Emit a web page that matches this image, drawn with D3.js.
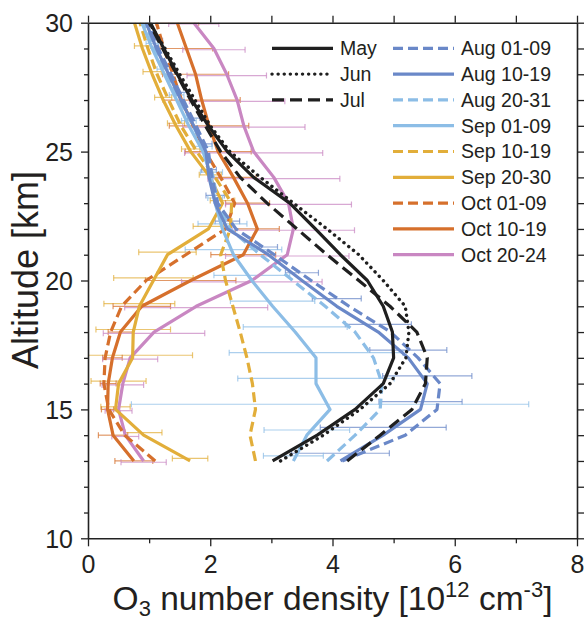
<!DOCTYPE html>
<html>
<head>
<meta charset="utf-8">
<script src="https://cdn.jsdelivr.net/npm/d3@7"></script>
<style>
  html, body { margin: 0; padding: 0; background: #fff; }
  svg { display: block; font-family: "Liberation Sans", Arial, Helvetica, sans-serif; }
</style>
</head>
<body>
<svg id="chart" width="586" height="621"></svg>
<script>
// ---------------- DATA ----------------
const altitudes = [13,14,15,16,17,18,19,20,21,22,23,24,25,26,27,28,29,30];

const seriesNames = ["May","Jun","Jul","Aug 01-09","Aug 10-19","Aug 20-31","Sep 01-09","Sep 10-19","Sep 20-30","Oct 01-09","Oct 10-19","Oct 20-24"];

const may     = [3.02,3.75,4.37,4.83,5.00,4.98,4.83,4.57,4.13,3.72,3.30,2.71,2.28,1.97,1.70,1.46,1.24,1.02];
const jun     = [3.15,3.85,4.45,4.94,5.20,5.25,5.19,4.83,4.43,3.91,3.36,2.82,2.32,2.00,1.75,1.50,1.26,1.00];
const jul     = [4.24,4.78,5.30,5.52,5.55,5.38,4.94,4.43,3.91,3.42,2.93,2.49,2.17,1.92,1.68,1.45,1.22,1.00];
const aug0109 = [4.16,5.19,5.71,5.76,5.40,4.95,4.27,3.65,3.05,2.42,2.12,2.03,1.97,1.77,1.56,1.36,1.15,0.98];
const aug1019 = [4.13,4.83,5.44,5.55,5.24,4.75,4.07,3.50,2.95,2.28,2.08,1.98,1.93,1.73,1.52,1.32,1.12,0.95];
const aug2031 = [3.91,4.37,4.78,4.81,4.67,4.37,3.88,3.35,2.82,2.32,2.12,2.05,1.93,1.72,1.50,1.30,1.10,0.93];
const sep0109 = [3.36,3.58,3.96,3.73,3.73,3.39,3.02,2.68,2.38,2.20,2.08,2.02,1.88,1.65,1.45,1.25,1.05,0.88];
const sep1019 = [2.74,2.65,2.74,2.69,2.60,2.49,2.37,2.25,2.17,2.33,2.35,2.08,1.78,1.52,1.32,1.13,0.98,0.85];
const sep2030 = [1.67,0.91,0.45,0.50,0.73,0.74,0.84,1.07,1.30,1.97,2.20,2.00,1.68,1.44,1.23,1.05,0.89,0.76];
const oct0109 = [1.10,0.60,0.34,0.26,0.28,0.37,0.55,0.95,1.60,2.25,2.40,2.17,1.92,1.72,1.53,1.39,1.24,1.12];
const oct1019 = [0.75,0.41,0.32,0.33,0.40,0.53,0.88,1.68,2.54,2.77,2.61,2.38,2.13,1.98,1.86,1.76,1.61,1.46];
const oct2024 = [0.91,0.61,0.50,0.57,0.69,1.08,1.77,2.68,3.26,3.36,3.28,3.04,2.71,2.55,2.44,2.27,2.06,1.73];

// standard deviations (error bars), only for some periods
const aug1019Std = [0.80,1.03,0.68,0.73,0.63,0.54,0.40,0.27,0.15,0.20,0.15,0.12,0.10,0.10,0.10,0.10,0.10,0.10];
const sep0109Std = [0.49,0.70,3.25,1.28,1.42,0.85,0.69,0.62,0.79,0.40,0.12,0.18,0.15,0.12,0.12,0.12,0.10,0.10];
const sep2030Std = [0.29,0.30,0.24,0.45,0.98,0.61,0.58,0.65,0.47,0.25,0.20,0.18,0.15,0.14,0.14,0.15,0.13,0.10];
const oct1019Std = [0.31,0.24,0.10,0.13,0.16,0.20,0.47,0.74,0.53,0.36,0.36,0.37,0.54,0.65,0.63,0.54,0.43,0.35];
const oct2024Std = [0.37,0.22,0.22,0.34,0.45,0.83,1.17,1.15,1.01,1.00,1.03,1.08,1.13,1.00,0.78,0.65,0.51,0.41];

const xTicks = [0,2,4,6,8];
const yTicks = [10,15,20,25,30];

// ---------------- STYLES ----------------
const BLACK = "#1f1f1f", MBLUE = "#6a88c8", LBLUE = "#8cbde6", GOLD = "#e2ae3a", ORANGE = "#d6702c", PINK = "#c987c2";

const series = [
  {name: seriesNames[0],  values: may,     color: BLACK,  dash: null,   width: 3.2},
  {name: seriesNames[1],  values: jun,     color: BLACK,  dash: "0.1,6", width: 3.4, cap: "round"},
  {name: seriesNames[2],  values: jul,     color: BLACK,  dash: "12,6", width: 3.2},
  {name: seriesNames[3],  values: aug0109, color: MBLUE,  dash: "10,5", width: 3.2},
  {name: seriesNames[4],  values: aug1019, color: MBLUE,  dash: null,   width: 3.2, std: aug1019Std},
  {name: seriesNames[5],  values: aug2031, color: LBLUE,  dash: "10,5", width: 3.2},
  {name: seriesNames[6],  values: sep0109, color: LBLUE,  dash: null,   width: 3.2, std: sep0109Std},
  {name: seriesNames[7],  values: sep1019, color: GOLD,   dash: "10,5", width: 3.2},
  {name: seriesNames[8],  values: sep2030, color: GOLD,   dash: null,   width: 3.2, std: sep2030Std},
  {name: seriesNames[9],  values: oct0109, color: ORANGE, dash: "10,5", width: 3.2},
  {name: seriesNames[10], values: oct1019, color: ORANGE, dash: null,   width: 3.2, std: oct1019Std},
  {name: seriesNames[11], values: oct2024, color: PINK,   dash: null,   width: 3.2, std: oct2024Std}
];

// ---------------- LAYOUT ----------------
const svg = d3.select("#chart");
const PL = 88, PR = 577, PT = 22.7, PB = 538.3;
const x = d3.scaleLinear().domain([0, 8]).range([PL, PR]);
const y = d3.scaleLinear().domain([10, 30]).range([PB, PT]);
const AX = "#222";

svg.append("defs").append("clipPath").attr("id", "clip")
  .append("rect").attr("x", PL).attr("y", PT).attr("width", PR - PL).attr("height", PB - PT);

// Error bars
const gBars = svg.append("g").attr("clip-path", "url(#clip)");
series.forEach((s, i) => {
  if (!s.std) return;
  const off = (10 - i) * 0.05; // small vertical offset per period (km)
  altitudes.forEach((a, j) => {
    const yy = y(a + off), x0 = x(s.values[j] - s.std[j]), x1 = x(s.values[j] + s.std[j]);
    const g = gBars.append("g").attr("stroke", s.color).attr("stroke-opacity", 0.72).attr("stroke-width", 1.2);
    g.append("line").attr("x1", x0).attr("x2", x1).attr("y1", yy).attr("y2", yy);
    g.append("line").attr("x1", x0).attr("x2", x0).attr("y1", yy - 3).attr("y2", yy + 3);
    g.append("line").attr("x1", x1).attr("x2", x1).attr("y1", yy - 3).attr("y2", yy + 3);
  });
});

// Profile lines
const line = d3.line().x(d => x(d.v)).y(d => y(d.a));
const gLines = svg.append("g").attr("clip-path", "url(#clip)");
const drawOrder = [11,10,9,8,7,6,5,4,3,2,1,0];
drawOrder.forEach(i => {
  const s = series[i];
  gLines.append("path")
    .datum(altitudes.map((a, j) => ({a, v: s.values[j]})))
    .attr("d", line)
    .attr("fill", "none")
    .attr("stroke", s.color)
    .attr("stroke-width", s.width)
    .attr("stroke-dasharray", s.dash)
    .attr("stroke-linecap", s.cap || "butt")
    .attr("stroke-linejoin", "round");
});

// Axes
const fontTick = 25;
const axB = d3.axisBottom(x).ticks(8).tickSizeOuter(0).tickSizeInner(7).tickFormat(d => xTicks.includes(d) ? d : "");
const gB = svg.append("g").attr("transform", `translate(0,${PB})`).call(axB);
gB.selectAll(".tick line").attr("y2", d => xTicks.includes(d) ? 8 : 5);
const axT = d3.axisTop(x).ticks(8).tickSizeOuter(0).tickSizeInner(7).tickFormat("");
svg.append("g").attr("transform", `translate(0,${PT})`).call(axT);
const yAll = d3.range(10, 31, 1);
const axL = d3.axisLeft(y).tickValues(yAll).tickSizeOuter(0).tickSizeInner(6).tickFormat(d => yTicks.includes(d) ? d : "");
const gL = svg.append("g").attr("transform", `translate(${PL},0)`).call(axL);
gL.selectAll(".tick line").attr("x2", d => yTicks.includes(d) ? -7 : -4);
const axR = d3.axisRight(y).tickValues(yAll).tickSizeOuter(0).tickSizeInner(7).tickFormat("");
svg.append("g").attr("transform", `translate(${PR},0)`).call(axR);

svg.selectAll(".domain").attr("stroke", AX).attr("stroke-width", 1.6);
svg.selectAll(".tick line").attr("stroke", AX).attr("stroke-width", 1.3);
svg.selectAll(".tick text").attr("font-size", fontTick).attr("fill", "#231f20")
  .attr("font-family", "'Liberation Sans', Arial, sans-serif");
gB.selectAll(".tick text").attr("dy", null).attr("y", 35);
gL.selectAll(".tick text").attr("x", -15).attr("dy", "0.35em");

// Axis labels
const xl = svg.append("text").attr("x", (PL + PR) / 2).attr("y", 610).attr("text-anchor", "middle")
  .attr("font-size", 33.5).attr("fill", "#231f20");
xl.append("tspan").text("O");
xl.append("tspan").text("3").attr("font-size", 22).attr("dy", 6);
xl.append("tspan").text(" number density [10").attr("dy", -6);
xl.append("tspan").text("12").attr("font-size", 22).attr("dy", -13);
xl.append("tspan").text(" cm").attr("dy", 13);
xl.append("tspan").text("-3").attr("font-size", 22).attr("dy", -13);
xl.append("tspan").text("]").attr("dy", 13);

svg.append("text").attr("transform", `translate(38,270) rotate(-90)`).attr("text-anchor", "middle")
  .attr("font-size", 36).attr("fill", "#231f20").text("Altitude [km]");

// Legend
const legendCols = [
  {x0: 272, idx: [0,1,2]},
  {x0: 393, idx: [3,4,5,6,7,8,9,10,11]}
];
const rowH = 25.8, row0 = 48.3;
const gLeg = svg.append("g");
legendCols.forEach(col => {
  col.idx.forEach((si, r) => {
    const s = series[si], yy = row0 + r * rowH;
    gLeg.append("line").attr("x1", col.x0).attr("x2", col.x0 + 61).attr("y1", yy).attr("y2", yy)
      .attr("stroke", s.color).attr("stroke-width", s.width).attr("stroke-dasharray", s.dash)
      .attr("stroke-linecap", s.cap || "butt");
    gLeg.append("text").attr("x", col.x0 + 68).attr("y", yy).attr("dy", "0.35em")
      .attr("font-size", 19.5).attr("fill", "#231f20").text(s.name);
  });
});
</script>
</body>
</html>
